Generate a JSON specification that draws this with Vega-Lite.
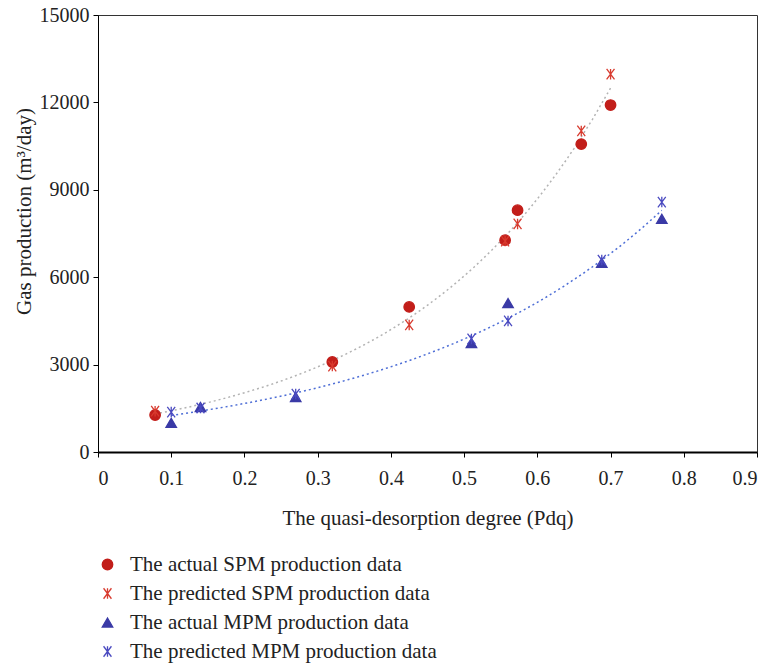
{
  "$schema": "https://vega.github.io/schema/vega-lite/v6.json",
  "autosize": {"type": "none"},
  "width": 659,
  "height": 437,
  "padding": {"left": 98, "top": 15, "right": 14, "bottom": 213},
  "background": "white",
  "config": {
    "font": "Liberation Serif",
    "view": {"stroke": "#333333", "strokeWidth": 1},
    "axis": {"grid": false, "domainColor": "#000000", "tickColor": "#000000", "tickSize": 5, "labelColor": "#222222", "titleColor": "#222222", "labelFont": "Liberation Serif", "titleFont": "Liberation Serif", "titleFontWeight": "normal", "labelFontSize": 20, "titleFontSize": 21},
    "legend": {"labelFont": "Liberation Serif", "labelFontSize": 21, "labelColor": "#222222", "labelLimit": 0}
  },
  "data": {
    "values": [
      {"x": 0.078, "y": 1270, "series": "The actual SPM production data", "group": "SPM"},
      {"x": 0.32, "y": 3090, "series": "The actual SPM production data", "group": "SPM"},
      {"x": 0.425, "y": 4980, "series": "The actual SPM production data", "group": "SPM"},
      {"x": 0.556, "y": 7270, "series": "The actual SPM production data", "group": "SPM"},
      {"x": 0.573, "y": 8300, "series": "The actual SPM production data", "group": "SPM"},
      {"x": 0.66, "y": 10570, "series": "The actual SPM production data", "group": "SPM"},
      {"x": 0.7, "y": 11910, "series": "The actual SPM production data", "group": "SPM"},
      {"x": 0.078, "y": 1400, "series": "The predicted SPM production data", "group": "SPM"},
      {"x": 0.32, "y": 2950, "series": "The predicted SPM production data", "group": "SPM"},
      {"x": 0.425, "y": 4360, "series": "The predicted SPM production data", "group": "SPM"},
      {"x": 0.556, "y": 7240, "series": "The predicted SPM production data", "group": "SPM"},
      {"x": 0.573, "y": 7830, "series": "The predicted SPM production data", "group": "SPM"},
      {"x": 0.66, "y": 11020, "series": "The predicted SPM production data", "group": "SPM"},
      {"x": 0.7, "y": 12970, "series": "The predicted SPM production data", "group": "SPM"},
      {"x": 0.1, "y": 1000, "series": "The actual MPM production data", "group": "MPM"},
      {"x": 0.14, "y": 1545, "series": "The actual MPM production data", "group": "MPM"},
      {"x": 0.27, "y": 1890, "series": "The actual MPM production data", "group": "MPM"},
      {"x": 0.51, "y": 3740, "series": "The actual MPM production data", "group": "MPM"},
      {"x": 0.56, "y": 5110, "series": "The actual MPM production data", "group": "MPM"},
      {"x": 0.688, "y": 6490, "series": "The actual MPM production data", "group": "MPM"},
      {"x": 0.77, "y": 8000, "series": "The actual MPM production data", "group": "MPM"},
      {"x": 0.1, "y": 1370, "series": "The predicted MPM production data", "group": "MPM"},
      {"x": 0.14, "y": 1510, "series": "The predicted MPM production data", "group": "MPM"},
      {"x": 0.27, "y": 1990, "series": "The predicted MPM production data", "group": "MPM"},
      {"x": 0.51, "y": 3880, "series": "The predicted MPM production data", "group": "MPM"},
      {"x": 0.56, "y": 4500, "series": "The predicted MPM production data", "group": "MPM"},
      {"x": 0.688, "y": 6590, "series": "The predicted MPM production data", "group": "MPM"},
      {"x": 0.77, "y": 8580, "series": "The predicted MPM production data", "group": "MPM"}
    ]
  },
  "layer": [
    {
      "transform": [
        {"filter": "datum.group === 'SPM'"},
        {"regression": "y", "on": "x", "method": "exp"}
      ],
      "mark": {"type": "line", "stroke": "#b3b3b3", "strokeWidth": 1.5, "strokeDash": [2, 3]},
      "encoding": {
        "x": {"field": "x", "type": "quantitative", "scale": {"domain": [0, 0.9]}},
        "y": {"field": "y", "type": "quantitative", "scale": {"domain": [0, 15000]}}
      }
    },
    {
      "transform": [
        {"filter": "datum.group === 'MPM'"},
        {"regression": "y", "on": "x", "method": "exp"}
      ],
      "mark": {"type": "line", "stroke": "#4f6fd6", "strokeWidth": 1.5, "strokeDash": [2, 3]},
      "encoding": {
        "x": {"field": "x", "type": "quantitative", "scale": {"domain": [0, 0.9]}},
        "y": {"field": "y", "type": "quantitative", "scale": {"domain": [0, 15000]}}
      }
    },
    {
      "mark": {"type": "point", "filled": true, "opacity": 1, "size": 110, "strokeWidth": 1.3},
      "encoding": {
        "x": {
          "field": "x", "type": "quantitative",
          "scale": {"domain": [0, 0.9], "nice": false, "zero": true},
          "axis": {"values": [0, 0.1, 0.2, 0.3, 0.4, 0.5, 0.6, 0.7, 0.8, 0.9], "format": ".1~f", "title": "The quasi-desorption degree (Pdq)", "titleFontSize": 21, "domainWidth": 2, "labelPadding": 11, "titlePadding": 19}
        },
        "y": {
          "field": "y", "type": "quantitative",
          "scale": {"domain": [0, 15000], "nice": false},
          "axis": {"values": [0, 3000, 6000, 9000, 12000, 15000], "format": "d", "title": "Gas production (m³/day)", "labelPadding": 4, "titlePadding": 5, "titleY": 196}
        },
        "color": {
          "field": "series", "type": "nominal",
          "scale": {
            "domain": ["The actual SPM production data", "The predicted SPM production data", "The actual MPM production data", "The predicted MPM production data"],
            "range": ["#c21e1a", "#d83a2e", "#3a3aa6", "#4a4ac0"]
          },
          "legend": {"title": null, "orient": "none", "legendX": -1, "legendY": 539, "direction": "vertical", "rowPadding": 7, "labelOffset": 12, "symbolSize": 110, "symbolStrokeWidth": 1.3}
        },
        "stroke": {
          "field": "series", "type": "nominal",
          "scale": {
            "domain": ["The actual SPM production data", "The predicted SPM production data", "The actual MPM production data", "The predicted MPM production data"],
            "range": ["#c21e1a", "#d83a2e", "#3a3aa6", "#4a4ac0"]
          },
          "legend": {"title": null, "orient": "none", "legendX": -1, "legendY": 539, "direction": "vertical", "rowPadding": 7, "labelOffset": 12, "symbolSize": 110, "symbolStrokeWidth": 1.3}
        },
        "shape": {
          "field": "series", "type": "nominal",
          "scale": {
            "domain": ["The actual SPM production data", "The predicted SPM production data", "The actual MPM production data", "The predicted MPM production data"],
            "range": ["circle", "M-0.75,-1L0.75,1M-0.75,1L0.75,-1M0,-1L0,1", "triangle-up", "M-0.75,-1L0.75,1M-0.75,1L0.75,-1M0,-1L0,1"]
          },
          "legend": {"title": null, "orient": "none", "legendX": -1, "legendY": 539, "direction": "vertical", "rowPadding": 7, "labelOffset": 12, "symbolSize": 110, "symbolStrokeWidth": 1.3}
        }
      }
    }
  ]
}
